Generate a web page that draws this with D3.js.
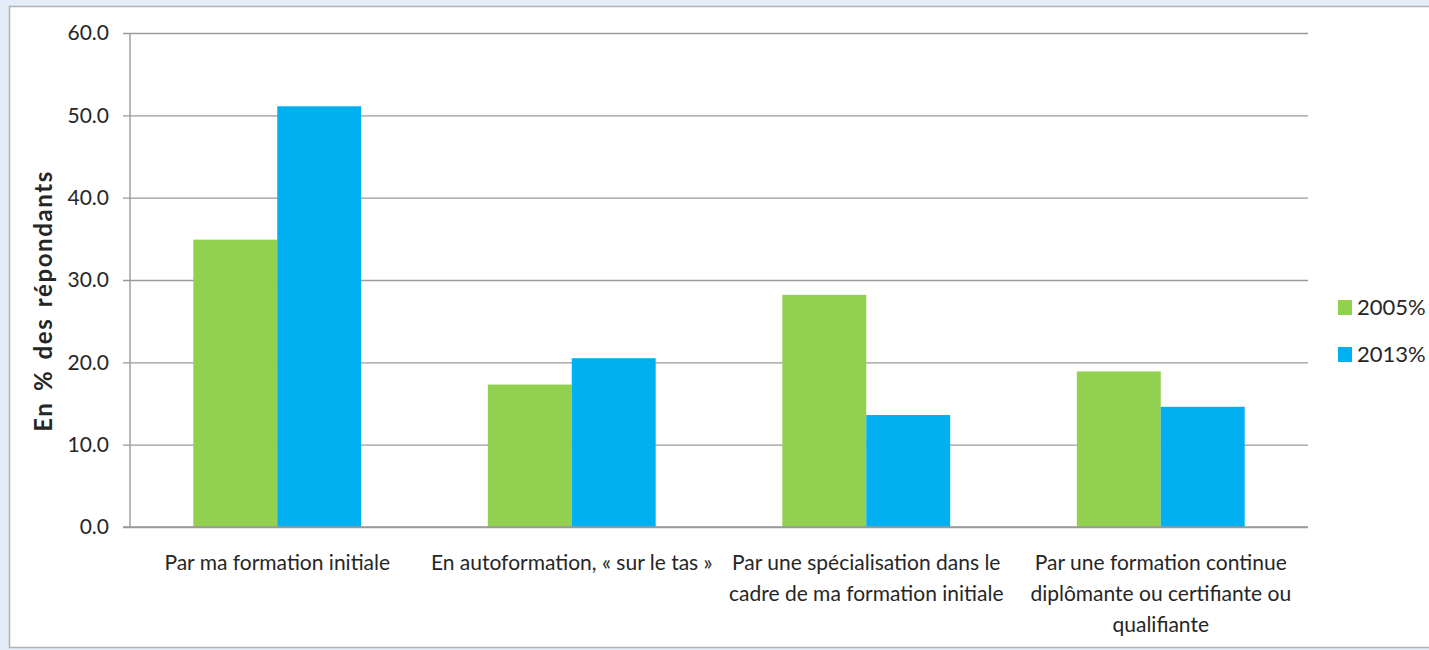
<!DOCTYPE html>
<html>
<head>
<meta charset="utf-8">
<script src="https://cdn.jsdelivr.net/npm/d3@7"></script>
<style>
  html, body { margin: 0; padding: 0; }
  body { width: 1429px; height: 650px; overflow: hidden; background: #e4eef9; }
  text { font-family: Lato, "Open Sans", sans-serif; fill: #262626; }
</style>
</head>
<body>
<div id="canvas"></div>
<script>
// categories with their wrapped label lines
const categories = [
  "Par ma formation initiale",
  "En autoformation, « sur le tas »",
  "Par une spécialisation dans le cadre de ma formation initiale",
  "Par une formation continue diplômante ou certifiante ou qualifiante"
];
const categoryLines = [
  ["Par ma formation initiale"],
  ["En autoformation, « sur le tas »"],
  ["Par une spécialisation dans le", "cadre de ma formation initiale"],
  ["Par une formation continue", "diplômante ou certifiante ou", "qualifiante"]
];
const seriesNames = ["2005%", "2013%"];
const values2005 = [34.9, 17.3, 28.2, 18.9];
const values2013 = [51.1, 20.5, 13.6, 14.6];
const yTicks = [0, 10, 20, 30, 40, 50, 60];
const colors = ["#92d050", "#00b0f0"];

let W = 1429, H = 650
  , margin = { left: 130, right: 121, top: 33, bottom: 123 }
  , width = W - margin.left - margin.right
  , height = H - margin.top - margin.bottom
  ;

let svg = d3.select("#canvas").append("svg")
  .attr("width", W)
  .attr("height", H);

// white chart panel with thin border
svg.append("rect")
  .attr("x", 9.5).attr("y", 6.5)
  .attr("width", W).attr("height", 641)
  .attr("fill", "#ffffff")
  .attr("stroke", "#b0b0b0")
  .attr("stroke-width", 1.5);

let g = svg.append("g").attr("transform", "translate(" + margin.left + "," + margin.top + ")");

let x = d3.scaleBand()
  .domain(categories)
  .range([0, width])
  .paddingInner(0.43)
  .paddingOuter(0.215);

let xs = d3.scaleBand()
  .domain(seriesNames)
  .range([0, x.bandwidth()]);

let y = d3.scaleLinear()
  .domain([0, 60])
  .range([height, 0]);

// gridlines + ticks
let yAxis = d3.axisLeft(y)
  .tickValues(yTicks)
  .tickSize(-(width + 7))
  .tickPadding(15)
  .tickFormat(d3.format(".1f"));

let ya = g.append("g")
  .attr("transform", "translate(-7,0)")
  .call(yAxis);
ya.select(".domain").remove();
ya.selectAll(".tick line")
  .attr("stroke", "#9a9a9a")
  .attr("stroke-width", 1.4);
ya.selectAll(".tick text")
  .attr("x", -14)
  .style("font-size", "21px")
  .style("fill", "#262626");

// vertical axis line
g.append("line")
  .attr("x1", 0).attr("x2", 0)
  .attr("y1", 0).attr("y2", height)
  .attr("stroke", "#9a9a9a")
  .attr("stroke-width", 1.4);

// bars
let rows = categories.map(function (c, i) {
  return { cat: c, vals: [values2005[i], values2013[i]] };
});

let groups = g.selectAll(".grp")
  .data(rows)
  .enter().append("g")
  .attr("class", "grp")
  .attr("transform", function (d) { return "translate(" + x(d.cat) + ",0)"; });

groups.selectAll("rect")
  .data(function (d) { return d.vals.map(function (v, k) { return { s: seriesNames[k], v: v, k: k }; }); })
  .enter().append("rect")
  .attr("x", function (d) { return xs(d.s); })
  .attr("y", function (d) { return y(d.v); })
  .attr("width", xs.bandwidth())
  .attr("height", function (d) { return height - y(d.v); })
  .attr("fill", function (d) { return colors[d.k]; });

// baseline on top of bars
g.append("line")
  .attr("x1", -7).attr("x2", width)
  .attr("y1", y(0)).attr("y2", y(0))
  .attr("stroke", "#9a9a9a")
  .attr("stroke-width", 1.4);

// category labels
categories.forEach(function (c, i) {
  let t = g.append("text")
    .attr("x", x(c) + x.bandwidth() / 2)
    .attr("y", height + 43)
    .attr("text-anchor", "middle")
    .style("font-size", "21px");
  categoryLines[i].forEach(function (line, j) {
    t.append("tspan")
      .attr("x", x(c) + x.bandwidth() / 2)
      .attr("dy", j === 0 ? 0 : 31)
      .text(line);
  });
});

// y title
svg.append("text")
  .attr("transform", "translate(52,301) rotate(-90)")
  .attr("text-anchor", "middle")
  .style("font-size", "24px")
  .style("font-weight", "bold")
  .style("letter-spacing", "1.6px")
  .style("word-spacing", "3px")
  .text("En %  des répondants");

// legend
let legend = svg.append("g").attr("transform", "translate(1338,300)");
seriesNames.forEach(function (s, k) {
  let lg = legend.append("g").attr("transform", "translate(0," + (k * 47) + ")");
  lg.append("rect")
    .attr("width", 14).attr("height", 15)
    .attr("fill", colors[k]);
  lg.append("text")
    .attr("x", 19).attr("y", 15)
    .style("font-size", "22px")
    .text(s);
});
</script>
</body>
</html>
